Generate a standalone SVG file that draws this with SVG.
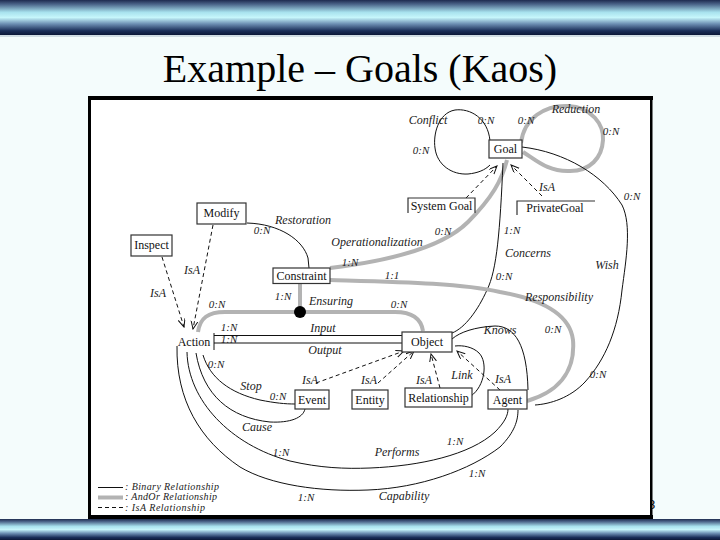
<svg xmlns="http://www.w3.org/2000/svg" width="720" height="540" viewBox="0 0 720 540">
<defs>
<linearGradient id="bar" x1="0" y1="0" x2="0" y2="1">
<stop offset="0" stop-color="#1e2c50"/>
<stop offset="0.12" stop-color="#4a6488"/>
<stop offset="0.35" stop-color="#a8e2ee"/>
<stop offset="0.5" stop-color="#c6f6fb"/>
<stop offset="0.68" stop-color="#6e90b4"/>
<stop offset="0.88" stop-color="#1a2e58"/>
<stop offset="1" stop-color="#0c1838"/>
</linearGradient>
<marker id="ah" markerWidth="9" markerHeight="8" refX="8" refY="3.5" orient="auto" markerUnits="userSpaceOnUse">
<path d="M0,0 L8,3.5 L0,7" fill="none" stroke="#111" stroke-width="1"/>
</marker>
<style>
.title{font-family:"Liberation Serif",serif;font-size:40px;fill:#000;text-anchor:middle}
.num{font-family:"Liberation Sans",sans-serif;font-size:13px;fill:#000}
.nb{fill:#fff;stroke:#333;stroke-width:1.2}
.nt{font-family:"Liberation Serif",serif;font-size:12px;fill:#111;text-anchor:middle}
.lb{font-family:"Liberation Serif",serif;font-style:italic;font-size:12px;fill:#222;text-anchor:middle}
.cd{font-family:"Liberation Serif",serif;font-style:italic;font-size:11px;fill:#222;text-anchor:middle}
.lg{font-family:"Liberation Serif",serif;font-style:italic;font-size:10px;fill:#222}
.bin{fill:none;stroke:#111;stroke-width:1}
.andor{fill:none;stroke:#b3b3b3;stroke-width:4}
.isa{fill:none;stroke:#111;stroke-width:1;stroke-dasharray:4 3}
</style>
</defs>
<rect x="0" y="0" width="720" height="540" fill="#f4fcfc"/>
<rect x="0" y="0" width="720" height="35" fill="url(#bar)"/>
<rect x="0" y="35" width="720" height="2" fill="#d0dde4"/>
<rect x="0" y="519" width="720" height="21" fill="url(#bar)"/>
<text class="title" x="360" y="82">Example – Goals (Kaos)</text>
<text class="num" x="648" y="509">8</text>
<rect x="90" y="98" width="561" height="419" fill="#fff"/>
<g id="frame" fill="#000">
<rect x="88" y="96" width="565" height="4"/>
<rect x="88" y="96" width="3" height="423"/>
<rect x="650" y="96" width="2.5" height="423"/>
<rect x="88" y="515" width="565" height="4"/>
</g>
<g id="connectors">
<path id="conflict" class="bin" d="M490,141 C488,118 470,108 455,110 C438,113 433,135 435,148 C437,165 452,175 468,174 C478,173 485,170 490,165"/>
<path id="reduction" class="andor" d="M521,143 C524,118 545,105 568,106 C592,107 604,125 603,140 C602,158 590,171 570,171 C548,172 536,160 523,152"/>
<path id="wish" class="bin" d="M522,147 C565,152 603,175 622,205 C632,225 626,260 622,290 C618,330 605,360 585,382 C570,398 550,404 535,405"/>
<path id="operationalization" class="andor" d="M330,268 C380,262 440,250 468,222 C492,198 502,180 507,160"/>
<path id="restoration" class="bin" d="M247,223 C280,224 303,240 308,258 L309,268"/>
<path id="isa-modify" class="isa" d="M213,225 L193,329" marker-end="url(#ah)"/>
<path id="isa-inspect" class="isa" d="M162,257 L184,327" marker-end="url(#ah)"/>
<path id="ensuring-stem" class="andor" d="M300,283 L300,312"/>
<path id="ensuring" class="andor" d="M198,332 C200,318 208,312 225,312 L395,312 C412,312 421,318 423,331"/>
<circle cx="300" cy="312" r="6" fill="#000"/>
<path id="action-bar" class="bin" d="M214,333 L214,350"/>
<path id="input" class="bin" d="M214,335.5 L402,335.5"/>
<path id="output" class="bin" d="M214,343 L402,343"/>
<path id="concerns" class="bin" d="M503,163 C500,230 497,270 487,290 C478,310 465,328 452,333"/>
<path id="responsibility" class="andor" d="M330,280 C400,282 460,283 500,292 C545,300 570,315 573,340 C575,365 565,390 527,401"/>
<path id="knows" class="bin" d="M452,339 C460,332 475,327 495,326 C515,326 527,345 528,390"/>
<path id="link" class="bin" d="M471,396 C485,386 488,362 479,353 C473,347 463,345 455,346"/>
<path id="isa-agent" class="isa" d="M500,390 L457,351" marker-end="url(#ah)"/>
<path id="isa-relationship" class="isa" d="M440,388 L431,354" marker-end="url(#ah)"/>
<path id="isa-entity" class="isa" d="M378,383 L414,351" marker-end="url(#ah)"/>
<path id="isa-event" class="isa" d="M316,383 L404,351" marker-end="url(#ah)"/>
<path id="isa-systemgoal" class="isa" d="M466,198 L497,166" marker-end="url(#ah)"/>
<path id="isa-privategoal" class="isa" d="M542,196 L511,165" marker-end="url(#ah)"/>
<path id="stop" class="bin" d="M203,355 C210,378 230,393 260,400 C275,403 285,404 295,404"/>
<path id="cause" class="bin" d="M196,353 C203,395 230,418 270,422 C290,423 303,418 305,409"/>
<path id="performs" class="bin" d="M187,352 C188,400 230,445 290,461 C320,468 345,469 370,468 C420,466 470,455 495,432 C505,422 508,415 508,409"/>
<path id="capability" class="bin" d="M177,346 C176,400 200,440 240,467 C270,485 320,492 368,490 C420,488 470,470 500,447 C515,432 518,420 518,410"/>
</g>
<g id="edge-labels">
<text class="lb" x="428" y="124">Conflict</text>
<text class="cd" x="486" y="124">0:N</text>
<text class="cd" x="421" y="154">0:N</text>
<text class="lb" x="576" y="113">Reduction</text>
<text class="cd" x="526" y="124">0:N</text>
<text class="cd" x="611" y="135">0:N</text>
<text class="cd" x="632" y="200">0:N</text>
<text class="lb" x="607" y="269">Wish</text>
<text class="cd" x="598" y="378">0:N</text>
<text class="lb" x="547" y="191">IsA</text>
<text class="cd" x="443" y="235">0:N</text>
<text class="lb" x="377" y="246">Operationalization</text>
<text class="cd" x="350" y="266">1:N</text>
<text class="cd" x="392" y="279">1:1</text>
<text class="lb" x="303" y="224">Restoration</text>
<text class="cd" x="262" y="234">0:N</text>
<text class="lb" x="192" y="274">IsA</text>
<text class="lb" x="158" y="297">IsA</text>
<text class="cd" x="283" y="300">1:N</text>
<text class="lb" x="331" y="305">Ensuring</text>
<text class="cd" x="217" y="308">0:N</text>
<text class="cd" x="399" y="308">0:N</text>
<text class="cd" x="229" y="331" font-size="10">1:N</text>
<text class="cd" x="229" y="342.5" font-size="8.5">1:N</text>
<text class="lb" x="323" y="332">Input</text>
<text class="lb" x="325" y="354">Output</text>
<text class="cd" x="512" y="234">1:N</text>
<text class="lb" x="528" y="257">Concerns</text>
<text class="cd" x="504" y="280">0:N</text>
<text class="lb" x="559" y="301">Responsibility</text>
<text class="cd" x="553" y="333">0:N</text>
<text class="lb" x="500" y="334">Knows</text>
<text class="lb" x="462" y="379">Link</text>
<text class="lb" x="503" y="383">IsA</text>
<text class="lb" x="424" y="384">IsA</text>
<text class="lb" x="369" y="384">IsA</text>
<text class="lb" x="310" y="384">IsA</text>
<text class="cd" x="216" y="368">0:N</text>
<text class="lb" x="251" y="390">Stop</text>
<text class="cd" x="278" y="400">0:N</text>
<text class="lb" x="257" y="431">Cause</text>
<text class="cd" x="281" y="456">1:N</text>
<text class="lb" x="397" y="456">Performs</text>
<text class="cd" x="455" y="445">1:N</text>
<text class="cd" x="306" y="501">1:N</text>
<text class="lb" x="404" y="500">Capability</text>
<text class="cd" x="477" y="477">1:N</text>
</g>
<g id="goal"><rect class="nb" x="489" y="140" width="33" height="18"/><text class="nt" x="505.5" y="153">Goal</text></g>
<g id="systemgoal"><path d="M408,213 L408,198 L475,198 L475,213" fill="#fff" stroke="#333" stroke-width="1.2"/><text class="nt" x="441.5" y="210">System Goal</text></g>
<g id="privategoal"><path d="M517,215 L517,201 L595,201" fill="none" stroke="#333" stroke-width="1.2"/><text class="nt" x="555" y="212">PrivateGoal</text></g>
<g id="modify"><rect class="nb" x="197" y="203" width="49" height="21"/><text class="nt" x="221.5" y="217">Modify</text></g>
<g id="inspect"><rect class="nb" x="131" y="235" width="41" height="21"/><text class="nt" x="151.5" y="249">Inspect</text></g>
<g id="constraint"><rect class="nb" x="273" y="268" width="57" height="15.5"/><text class="nt" x="301.5" y="280">Constraint</text></g>
<g id="action"><text class="nt" x="194" y="346">Action</text></g>
<g id="object"><rect class="nb" x="402" y="332" width="50" height="20"/><text class="nt" x="427" y="346">Object</text></g>
<g id="event"><rect class="nb" x="295" y="390" width="34" height="19"/><text class="nt" x="312" y="404">Event</text></g>
<g id="entity"><rect class="nb" x="352" y="390" width="36" height="19"/><text class="nt" x="370" y="404">Entity</text></g>
<g id="relationship"><rect class="nb" x="405" y="388" width="67" height="19"/><text class="nt" x="438.5" y="402">Relationship</text></g>
<g id="agent"><rect class="nb" x="488" y="390" width="39" height="19"/><text class="nt" x="507.5" y="404">Agent</text></g>
<g id="legend">
<path class="bin" d="M98,487.5 L123,487.5"/>
<path d="M98,497.5 L123,497.5" stroke="#b3b3b3" stroke-width="4"/>
<path class="isa" d="M98,507.5 L123,507.5"/>
<text class="lg" x="125" y="490" textLength="94" lengthAdjust="spacing">: Binary Relationship</text>
<text class="lg" x="125" y="500" textLength="92" lengthAdjust="spacing">: AndOr Relationship</text>
<text class="lg" x="125" y="510.5" textLength="80" lengthAdjust="spacing">: IsA Relationship</text>
</g>
</svg>
